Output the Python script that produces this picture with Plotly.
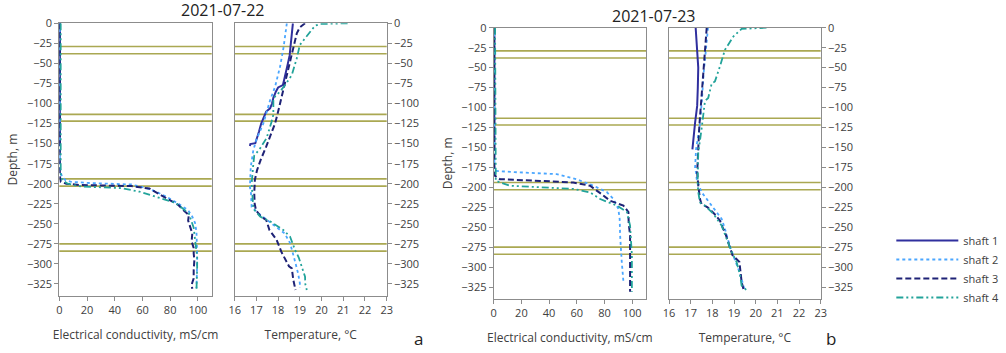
import plotly.graph_objects as go

# ---------------- data (depth in m, negative downward) ----------------
# Panel a (2021-07-22) - electrical conductivity, mS/cm
ec_a_s1_depth = [0, -50, -100, -153]
ec_a_s1 = [0.5, 0.5, 0.4, 0.4]
ec_a_s2_depth = [0, -100, -180, -189, -195, -197.5, -199, -201, -205, -210, -216, -225, -233, -241, -249, -260, -275, -287, -300, -315, -330]
ec_a_s2 = [0.3, 0.3, 0.5, 1.5, 4, 8, 20, 52, 62, 70, 77, 86, 93, 96, 98, 99, 99.5, 99.5, 99.5, 99, 99]
ec_a_s3_depth = [0, -100, -190, -197.5, -200, -201.6, -203, -206, -210, -215, -220, -226.6, -232, -239, -246, -253.6, -262, -272, -280, -287, -295, -308, -318, -326, -331]
ec_a_s3 = [0.3, 0.3, 0.4, 1, 5, 15, 52, 65, 69, 74, 79, 86, 89, 93.5, 93, 94.7, 96, 95.5, 97, 97, 97.5, 97, 97, 95.5, 96]
ec_a_s4_depth = [0, -100, -188, -195, -200, -203.5, -205.5, -210, -216, -224, -237, -245, -255, -270, -291, -305, -324, -333]
ec_a_s4 = [1, 1, 1, 2, 6, 16, 45, 58, 69, 84, 93.5, 95, 97, 98, 99.5, 99.5, 99.5, 99]

# Panel a - temperature, °C
t_a_s1_depth = [0, -10, -20, -30, -40, -50, -60, -70, -77, -80, -85, -93, -100, -106, -110, -115, -125, -135, -145, -149.5, -150.5, -153]
t_a_s1 = [18.68, 18.65, 18.62, 18.58, 18.53, 18.45, 18.38, 18.28, 18.22, 18.0, 17.9, 17.78, 17.72, 17.63, 17.45, 17.38, 17.22, 17.12, 17.0, 16.95, 16.72, 16.7]
t_a_s2_depth = [0, -12.5, -30, -54, -79, -96, -110, -125, -145, -158, -179, -204, -212, -229, -237, -245, -254, -262, -274, -286, -299, -312, -324, -330]
t_a_s2 = [18.4, 18.35, 18.25, 18.09, 17.86, 17.63, 17.48, 17.32, 17.0, 16.86, 16.74, 16.7, 16.75, 16.78, 17.1, 17.5, 17.95, 18.3, 18.55, 18.68, 18.8, 18.92, 19.0, 19.0]
t_a_s3_depth = [0, -5, -12.5, -25, -41.6, -66.5, -91.4, -110, -124.7, -140, -153.8, -170, -183, -195, -212, -225, -233, -241, -245, -257.7, -270, -285, -299, -303, -305.5, -320, -332.5]
t_a_s3 = [19.24, 19.0, 18.86, 18.75, 18.63, 18.4, 18.17, 18.0, 17.86, 17.65, 17.45, 17.2, 17.03, 16.93, 16.9, 16.92, 16.98, 17.2, 17.45, 17.6, 17.93, 18.15, 18.4, 18.5, 18.63, 18.7, 18.8]
t_a_s4_depth = [0, -0.8, -3, -10.5, -27, -43.6, -64.5, -77, -85, -93.5, -114, -122.7, -143, -156, -165, -175, -200, -231, -241, -247, -257.7, -266, -282.7, -292, -303.5, -316, -325, -332.5]
t_a_s4 = [21.2, 19.95, 19.7, 19.47, 19.0, 18.86, 18.63, 18.32, 18.09, 17.78, 17.78, 17.7, 17.47, 17.17, 16.9, 16.86, 16.78, 16.86, 17.17, 17.63, 18.24, 18.55, 18.78, 18.95, 19.09, 19.24, 19.25, 19.32]

# Panel b (2021-07-23) - electrical conductivity, mS/cm
ec_b_s1_depth = [0, -50, -100, -153]
ec_b_s1 = [0.5, 0.5, 0.4, 0.4]
ec_b_s2_depth = [0, -100, -175, -179.4, -181, -183.5, -190, -198, -206, -214.7, -227, -240, -260, -293.6, -318.5]
ec_b_s2 = [0.3, 0.3, 0.5, 1, 15, 45.5, 60, 72, 81.7, 86.5, 90, 91, 91.3, 92.5, 93.7]
ec_b_s3_depth = [0, -100, -180, -185.6, -189.8, -192, -194, -198, -204, -210, -216.8, -223, -231, -245, -260, -285, -300, -315, -331]
ec_b_s3 = [0.3, 0.3, 0.5, 1, 4.5, 33.5, 57.5, 69.6, 74.5, 79, 84, 93.7, 97.3, 97.5, 98.5, 98.5, 98, 98.2, 98.5]
ec_b_s4_depth = [0, -100, -185, -192, -198, -200, -202, -206.4, -214.7, -223, -231, -248, -285, -331]
ec_b_s4 = [1, 1, 1, 1.5, 11.8, 33.5, 57.5, 69.6, 76.9, 89, 96.2, 98.5, 99.8, 99.8]

# Panel b - temperature, °C
t_b_s1_depth = [0, -25, -50, -75, -98, -120, -140, -152.4]
t_b_s1 = [17.23, 17.3, 17.35, 17.33, 17.3, 17.2, 17.12, 17.08]
t_b_s2_depth = [0, -27.8, -56.8, -90, -123, -152, -177, -181.5, -190, -206, -223, -239.6, -252, -273, -290, -310, -330]
t_b_s2 = [17.8, 17.7, 17.6, 17.52, 17.42, 17.25, 17.2, 17.25, 17.28, 17.5, 17.97, 18.43, 18.58, 18.8, 19.03, 19.3, 19.5]
t_b_s3_depth = [0, -27.8, -56.8, -90, -123, -152, -181.5, -198, -214.7, -221, -225, -233.4, -241.7, -252, -256, -273, -285, -293.6, -310, -318.5, -329]
t_b_s3 = [17.74, 17.66, 17.58, 17.5, 17.4, 17.35, 17.3, 17.35, 17.43, 17.5, 17.78, 18.1, 18.35, 18.5, 18.58, 18.78, 18.93, 19.25, 19.3, 19.35, 19.45]
t_b_s4_depth = [0, -0.5, -1.5, -11, -27.8, -48.6, -67.3, -70, -88, -92, -106.7, -127.5, -156.5, -194, -206, -219, -223, -233, -248, -264.5, -281, -293.6, -310, -323, -329]
t_b_s4 = [20.5, 20.05, 19.35, 18.97, 18.58, 18.35, 18.12, 17.97, 17.81, 17.66, 17.58, 17.5, 17.35, 17.32, 17.35, 17.43, 17.66, 18.04, 18.43, 18.66, 18.89, 19.12, 19.28, 19.35, 19.58]

# Layer boundaries (m)
boundary_depths = [-29, -38, -113.5, -122, -194, -203, -275, -284]

shaft_names = ["shaft 1", "shaft 2", "shaft 3", "shaft 4"]
date_labels = ["2021-07-22", "2021-07-23"]
ec_ticks = [0, 20, 40, 60, 80, 100]
t_ticks = [16, 17, 18, 19, 20, 21, 22, 23]
depth_ticks = [0, -25, -50, -75, -100, -125, -150, -175, -200, -225, -250, -275, -300, -325]

# ---------------- styling ----------------
FONT = "Open Sans"
TXT = "#404040"
AX = "#8c8c8c"
styles = [
    dict(color="#2f2f9e", width=2, dash="solid"),
    dict(color="#4aa6ff", width=1.8, dash="dot"),
    dict(color="#1e2276", width=2, dash="6px,3px"),
    dict(color="#22a39a", width=1.8, dash="7px,3px,2px,3px,2px,3px"),
]

fig = go.Figure()

panels = [
    ("x", "y", [(ec_a_s1, ec_a_s1_depth), (ec_a_s2, ec_a_s2_depth), (ec_a_s3, ec_a_s3_depth), (ec_a_s4, ec_a_s4_depth)]),
    ("x2", "y2", [(t_a_s1, t_a_s1_depth), (t_a_s2, t_a_s2_depth), (t_a_s3, t_a_s3_depth), (t_a_s4, t_a_s4_depth)]),
    ("x3", "y3", [(ec_b_s1, ec_b_s1_depth), (ec_b_s2, ec_b_s2_depth), (ec_b_s3, ec_b_s3_depth), (ec_b_s4, ec_b_s4_depth)]),
    ("x4", "y4", [(t_b_s1, t_b_s1_depth), (t_b_s2, t_b_s2_depth), (t_b_s3, t_b_s3_depth), (t_b_s4, t_b_s4_depth)]),
]

for pi, (xa, ya, series) in enumerate(panels):
    for si, (vals, dep) in enumerate(series):
        fig.add_trace(go.Scatter(
            x=vals, y=dep, mode="lines", name=shaft_names[si],
            line=styles[si], xaxis=xa, yaxis=ya,
            showlegend=(pi == 0), legendgroup=shaft_names[si],
            hoverinfo="skip",
        ))

# boundary lines in each panel
for xa, ya in [("x", "y"), ("x2", "y2"), ("x3", "y3"), ("x4", "y4")]:
    for d in boundary_depths:
        fig.add_shape(type="line", xref=f"{xa} domain", yref=ya, x0=0, x1=1, y0=d, y1=d,
                      line=dict(color="#aaa852", width=1.6), layer="below")

W, H = 1006, 353

def xdom(l, r):
    return [l / W, r / W]

def ydom(top, bottom):
    return [1 - bottom / H, 1 - top / H]

tickfont = dict(family=FONT, size=11, color=TXT)
titlefont = dict(family=FONT, size=12, color=TXT)

def xaxis(dom, rng, ticks, title, anchor):
    return dict(domain=dom, range=rng, tickvals=ticks, anchor=anchor, automargin=False,
                showline=True, mirror=True, linecolor=AX, linewidth=1,
                ticks="outside", ticklen=4, tickcolor=AX, showgrid=False, zeroline=False,
                tickfont=tickfont, title=dict(text=title, font=titlefont, standoff=14),
                fixedrange=True)

def yaxis(dom, side, anchor, title=None):
    d = dict(domain=dom, range=[-340, 0], tickvals=depth_ticks, anchor=anchor, side=side,
             automargin=False,
             showline=True, mirror=True, linecolor=AX, linewidth=1,
             ticks="outside", ticklen=4, tickcolor=AX, showgrid=False, zeroline=False,
             tickfont=tickfont, fixedrange=True)
    if title:
        d["title"] = dict(text=title, font=titlefont, standoff=6)
    return d

ya_dom = ydom(23.3, 296)
yb_dom = ydom(27.7, 299)

fig.update_layout(
    width=W, height=H,
    margin=dict(l=0, r=0, t=0, b=0, autoexpand=False),
    paper_bgcolor="white", plot_bgcolor="white",
    font=dict(family=FONT, color=TXT),
    xaxis=xaxis(xdom(59.3, 211.7), [0, 110], ec_ticks, "Electrical conductivity, mS/cm", "y"),
    xaxis2=xaxis(xdom(234.7, 386.7), [16, 23], t_ticks, "Temperature, °C", "y2"),
    xaxis3=xaxis(xdom(493.7, 646), [0, 110], ec_ticks, "Electrical conductivity, mS/cm", "y3"),
    xaxis4=xaxis(xdom(669, 820.7), [16, 23], t_ticks, "Temperature, °C", "y4"),
    yaxis=yaxis(ya_dom, "left", "x", "Depth, m"),
    yaxis2=yaxis(ya_dom, "right", "x2"),
    yaxis3=yaxis(yb_dom, "left", "x3", "Depth, m"),
    yaxis4=yaxis(yb_dom, "right", "x4"),
    showlegend=True,
    legend=dict(x=0.886, y=1 - 226 / H, xanchor="left", yanchor="top",
                font=dict(family=FONT, size=11, color=TXT),
                itemwidth=62, tracegroupgap=0, bgcolor="rgba(0,0,0,0)"),
)

annots = [
    dict(text=date_labels[0], x=222 / W, y=1 - 10 / H, size=16),
    dict(text=date_labels[1], x=653 / W, y=1 - 16 / H, size=16),
    dict(text="a", x=418 / W, y=1 - 338 / H, size=17),
    dict(text="b", x=831 / W, y=1 - 338 / H, size=17),
]
for a in annots:
    fig.add_annotation(text=a["text"], x=a["x"], y=a["y"], xref="paper", yref="paper",
                       xanchor="center", yanchor="middle", showarrow=False,
                       font=dict(family=FONT, size=a["size"], color="#222222"))

fig.write_html("out.html")
